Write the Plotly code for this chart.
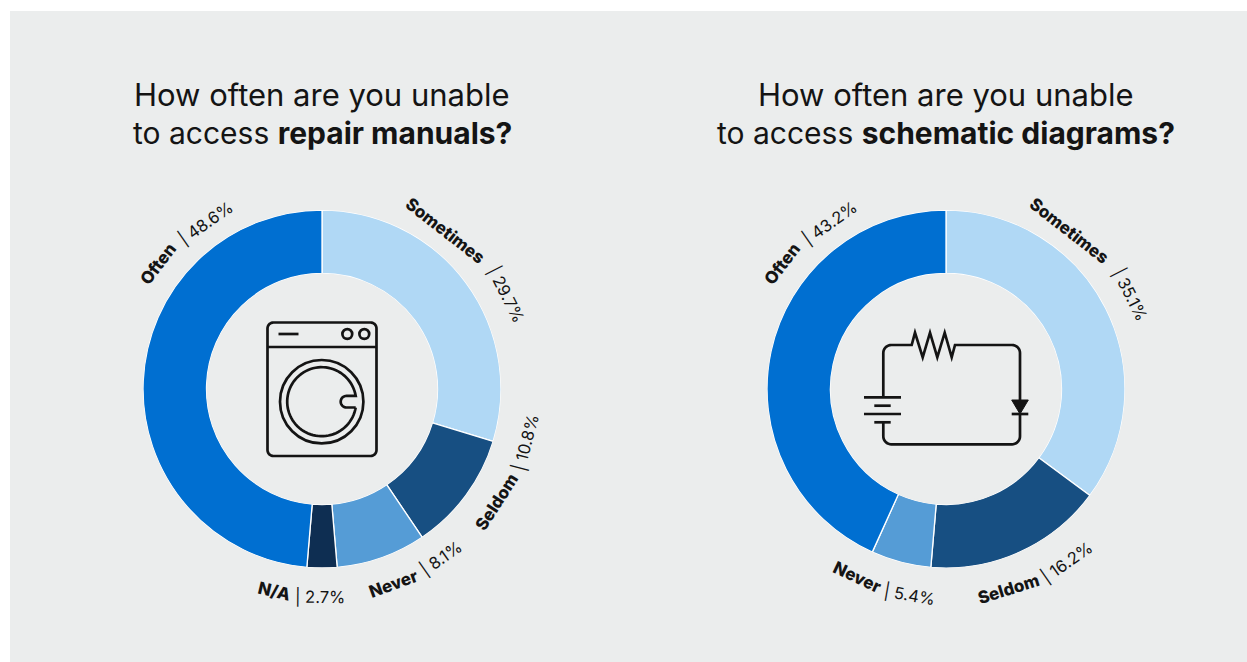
import numpy as np
import plotly.graph_objects as go

W, H = 1247, 662
BG = "#ebeded"
INK = "#141414"
FONT = "Inter"

LEFT_CATEGORIES = ["Sometimes", "Seldom", "Never", "N/A", "Often"]
LEFT_VALUES = [29.7, 10.8, 8.1, 2.7, 48.6]
LEFT_COLORS = ["#b0d8f5", "#174f82", "#559cd6", "#0e2e52", "#006fd1"]

RIGHT_CATEGORIES = ["Sometimes", "Seldom", "Never", "Often"]
RIGHT_VALUES = [35.1, 16.2, 5.4, 43.2]
RIGHT_COLORS = ["#b0d8f5", "#174f82", "#559cd6", "#006fd1"]

LEFT_TITLE = ["How often are you unable", "to access <b>repair manuals?</b>"]
RIGHT_TITLE = ["How often are you unable", "to access <b>schematic diagrams?</b>"]
TITLE_SIZES = [31, 30]

# Ring geometry in page pixels
LEFT_CX, RIGHT_CX, CY = 322, 946, 389
OUTER_R, INNER_R = 179, 115.5

# Curved-label pieces: clock angle and radius of the name, then of the value
LEFT_LABEL_POS = {
    "Sometimes": (38.0, 201, 63, 207),
    "Seldom": (122.9, 208, 104.6, 211),
    "Never": (160, 207, 144.8, 207),
    "N/A": (193.4, 208, 180.5, 208),
    "Often": (-52.7, 206, -35.0, 203),
}
RIGHT_LABEL_POS = {
    "Sometimes": (38.0, 201, 63, 207),
    "Seldom": (162.6, 210, 145, 211),
    "Never": (205.3, 208, 190, 209),
    "Often": (-52.7, 206, -35.0, 203),
}


def px(x):
    return x / W


def py(y):
    return 1 - y / H


def path(points, close=False):
    d = "M" + " L".join(f"{px(x):.5f},{py(y):.5f}" for x, y in points)
    return d + (" Z" if close else "")


def arc(cx, cy, r, start, end, n=40):
    # Angles in degrees, measured clockwise from east on screen
    t = np.radians(np.linspace(start, end, n))
    return [(cx + r * np.cos(a), cy + r * np.sin(a)) for a in t]


def stroke(points, width=2.7, close=False, fill="rgba(0,0,0,0)"):
    return dict(type="path", xref="paper", yref="paper", path=path(points, close),
                line=dict(color=INK, width=width), fillcolor=fill)


def ring(cx, cy, r, width=2.7, color=INK):
    return dict(type="circle", xref="paper", yref="paper",
                x0=px(cx - r), x1=px(cx + r), y0=py(cy + r), y1=py(cy - r),
                line=dict(color=color, width=width))


def rounded_outline(x0, y0, x1, y1, r):
    return (arc(x0 + r, y0 + r, r, 180, 270, 10) + arc(x1 - r, y0 + r, r, 270, 360, 10)
            + arc(x1 - r, y1 - r, r, 0, 90, 10) + arc(x0 + r, y1 - r, r, 90, 180, 10))


def washer_shapes():
    x0, x1, y0, y1 = 267.5, 376.5, 322.5, 456
    cx, cy = 321.7, 401.7
    # Inner drum opens at the door handle notch
    gap = np.degrees(np.arcsin(5.8 / 34.5))
    drum = arc(cx, cy, 34.5, gap, 360 - gap, 80)
    notch = arc(346.5, cy, 5.8, 270, 90, 20)
    return [
        stroke(rounded_outline(x0, y0, x1, y1, 6), close=True),
        stroke([(x0, 347), (x1, 347)]),
        stroke([(278.5, 334), (298.5, 334)]),
        ring(347.3, 334, 4.9),
        ring(364.3, 334, 4.9),
        ring(cx, cy, 41.7),
        stroke(drum + [(346.5, cy - 5.8)] + notch + [(drum[0][0], drum[0][1])]),
    ]


def circuit_shapes():
    xl, xr, yt, yb = 883.3, 1020, 345, 444.3
    zig = [(911.7, 345), (915, 332.7), (922.7, 357.3), (930, 332.7), (937.3, 357.3),
           (944.7, 332.7), (951.7, 357.3), (955, 345)]
    top = [(xl, 397.3)] + arc(xl + 8, yt + 8, 8, 180, 270, 10) + zig + arc(xr - 8, yt + 8, 8, 270, 360, 10) + [(xr, 400)]
    bottom = [(xr, 414)] + arc(xr - 8, yb - 8, 8, 0, 90, 10) + arc(xl + 8, yb - 8, 8, 90, 180, 10) + [(xl, 422.3)]
    return [
        stroke(top),
        stroke(bottom),
        stroke([(864, 397.3), (901, 397.3)]),
        stroke([(874.3, 405.7), (890.7, 405.7)]),
        stroke([(864, 414), (901, 414)]),
        stroke([(874.3, 422.3), (890.7, 422.3)]),
        stroke([(1011.7, 400), (1028.3, 400), (1020, 414)], width=1, close=True, fill=INK),
        stroke([(1011.7, 414), (1028.3, 414)]),
    ]


def rim_shapes(cx):
    # The white slice separators should not run round the ring's edges
    return [ring(cx, CY, OUTER_R + 0.9, width=1.8, color=BG),
            ring(cx, CY, INNER_R - 0.9, width=1.8, color=BG)]


def donut(labels, values, colors, cx):
    return go.Pie(
        labels=labels, values=values, sort=False, direction="clockwise", rotation=0,
        hole=INNER_R / OUTER_R, textinfo="none", showlegend=False,
        marker=dict(colors=colors, line=dict(color="#ffffff", width=1.3)),
        domain=dict(x=[px(cx - OUTER_R), px(cx + OUTER_R)], y=[py(CY + OUTER_R), py(CY - OUTER_R)]),
    )


def piece(cx, angle, radius, text, weight, size):
    a = np.radians(angle)
    x = cx + radius * np.sin(a)
    y = CY - radius * np.cos(a)
    # Text tops point outward on the upper half and inward on the lower half
    rot = angle if np.cos(a) > 0 else angle - 180
    return dict(x=px(x), y=py(y), xref="paper", yref="paper", text=text, showarrow=False,
                xanchor="center", yanchor="middle", textangle=rot,
                font=dict(family=FONT, size=size, color=INK, weight=weight))


def labels_for(cx, categories, values, positions):
    out = []
    for cat, val in zip(categories, values):
        a1, r1, a2, r2 = positions[cat]
        out.append(piece(cx, a1, r1, cat, 800, 17))
        out.append(piece(cx, a2, r2, f"| {val}%", 400, 16.5))
    return out


def title_for(cx, lines):
    return [dict(x=px(cx), y=py(y), xref="paper", yref="paper", text=t, showarrow=False,
                 xanchor="center", yanchor="middle",
                 font=dict(family=FONT, size=s, color=INK))
            for t, y, s in zip(lines, (94, 133), TITLE_SIZES)]


panel = dict(type="rect", xref="paper", yref="paper", layer="below",
             x0=px(10), x1=1, y0=0, y1=py(11),
             fillcolor=BG, line=dict(width=0))

fig = go.Figure([
    donut(LEFT_CATEGORIES, LEFT_VALUES, LEFT_COLORS, LEFT_CX),
    donut(RIGHT_CATEGORIES, RIGHT_VALUES, RIGHT_COLORS, RIGHT_CX),
])
fig.update_layout(
    width=W, height=H, margin=dict(l=0, r=0, t=0, b=0),
    paper_bgcolor="#ffffff", plot_bgcolor="#ffffff",
    shapes=[panel] + rim_shapes(LEFT_CX) + rim_shapes(RIGHT_CX) + washer_shapes() + circuit_shapes(),
    annotations=(title_for(LEFT_CX, LEFT_TITLE) + title_for(RIGHT_CX, RIGHT_TITLE)
                 + labels_for(LEFT_CX, LEFT_CATEGORIES, LEFT_VALUES, LEFT_LABEL_POS)
                 + labels_for(RIGHT_CX, RIGHT_CATEGORIES, RIGHT_VALUES, RIGHT_LABEL_POS)),
)
fig.write_html("out.html")
